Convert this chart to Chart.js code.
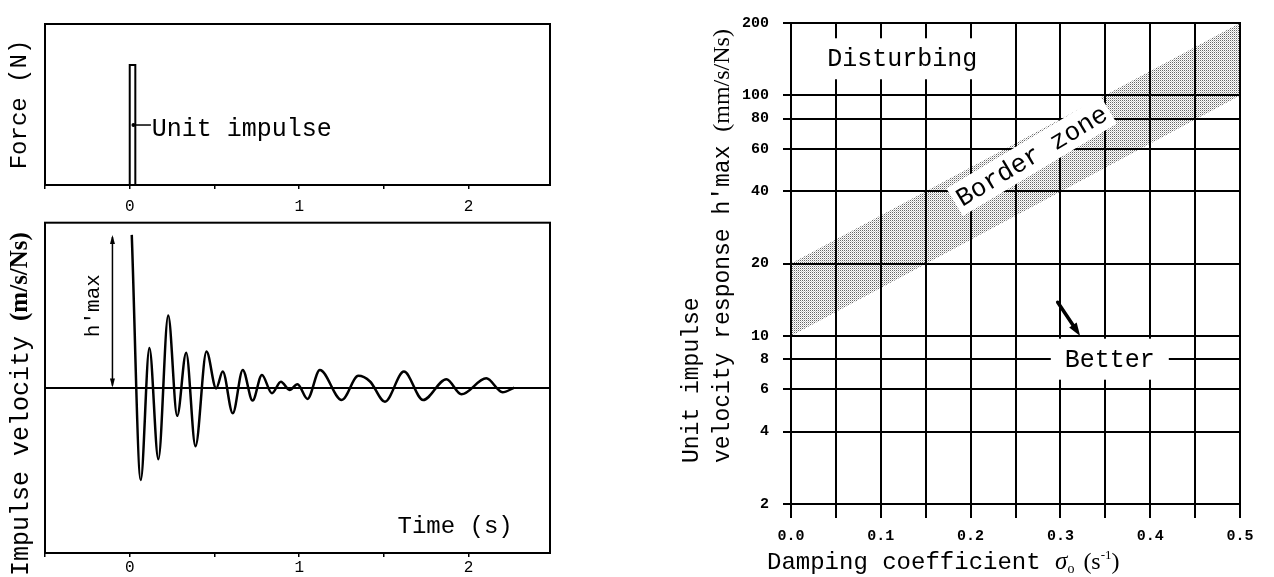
<!DOCTYPE html>
<html><head><meta charset="utf-8">
<script src="https://cdn.jsdelivr.net/npm/chart.js@4.4.1/dist/chart.umd.min.js"></script>
<style>
html,body{margin:0;padding:0;background:#fff;width:1274px;height:577px;overflow:hidden;position:relative}
canvas{position:absolute;display:block}
</style></head><body>
<canvas id="cA" width="560" height="220" style="left:0;top:0"></canvas>
<canvas id="cB" width="560" height="377" style="left:0;top:200px"></canvas>
<canvas id="cC" width="594" height="577" style="left:680px;top:0"></canvas>
<script>
// ---------- data ----------
const forceT = [0, 0, 0.033, 0.033];
const forceF = [0, 1, 1, 0];
const velT = [0.012, 0.065, 0.116, 0.169, 0.227, 0.28, 0.333, 0.388, 0.453, 0.51, 0.549, 0.608, 0.667, 0.725, 0.78, 0.839, 0.892, 0.943, 0.99, 1.049, 1.122, 1.251, 1.349, 1.418, 1.506, 1.618, 1.731, 1.869, 1.957, 2.104, 2.2, 2.27];
const velV = [1.0, -0.605, 0.26, -0.469, 0.472, -0.185, 0.229, -0.384, 0.236, -0.005, 0.105, -0.168, 0.116, -0.085, 0.083, -0.037, 0.039, -0.015, 0.022, -0.074, 0.116, -0.081, 0.077, 0.04, -0.092, 0.105, -0.081, 0.055, -0.044, 0.061, -0.03, 0.0];
const timeTicks = [-0.5, 0, 0.5, 1, 1.5, 2];
const timeLabels = ['', '0', '', '1', '', '2'];
const dampTicks = [0, 0.05, 0.1, 0.15, 0.2, 0.25, 0.3, 0.35, 0.4, 0.45, 0.5];
const dampLabels = ['0.0', '', '0.1', '', '0.2', '', '0.3', '', '0.4', '', '0.5'];
const respTicks = [2, 4, 6, 8, 10, 20, 40, 60, 80, 100, 200];
const bandX = [0, 0.5];
const bandLow = [10, 100];
const bandHigh = [20, 200];

// ---------- styles ----------
const MONO = "'Courier New', 'Liberation Mono', monospace";
const SERIF = "'Times New Roman', 'Liberation Serif', serif";
Chart.defaults.color = '#000';

function frame(lw) {
  return { id: 'frame', afterDatasetsDraw(chart) {
    const {ctx, chartArea: a} = chart;
    ctx.save(); ctx.strokeStyle = '#000'; ctx.lineWidth = lw;
    ctx.strokeRect(a.left, a.top, a.right - a.left, a.bottom - a.top);
    ctx.restore();
  }};
}
function arrowHead(ctx, x1, y1, x2, y2, len, wid) {
  const a = Math.atan2(y2 - y1, x2 - x1);
  ctx.beginPath();
  ctx.moveTo(x2, y2);
  ctx.lineTo(x2 - len * Math.cos(a) + wid * Math.sin(a), y2 - len * Math.sin(a) - wid * Math.cos(a));
  ctx.lineTo(x2 - len * Math.cos(a) - wid * Math.sin(a), y2 - len * Math.sin(a) + wid * Math.cos(a));
  ctx.closePath(); ctx.fill();
}
function runsWidth(ctx, list) {
  let w = 0;
  ctx.save();
  for (const r of list) { ctx.font = r.font; w += ctx.measureText(r.text).width + (r.gap || 0); }
  ctx.restore();
  return w;
}
function runs(ctx, x, y, angle, list, baseline) {
  ctx.save(); ctx.translate(x, y); ctx.rotate(angle);
  ctx.textAlign = 'left'; ctx.textBaseline = baseline || 'alphabetic'; ctx.fillStyle = '#000';
  let cx = 0;
  for (const r of list) { ctx.font = r.font; ctx.fillText(r.text, cx, r.dy || 0); cx += ctx.measureText(r.text).width + (r.gap || 0); }
  ctx.restore();
}
function boxText(ctx, text, x, y, angle, size, padX, padY) {
  ctx.save(); ctx.translate(x, y); ctx.rotate(angle);
  ctx.font = size + 'px ' + MONO;
  const w = ctx.measureText(text).width;
  ctx.fillStyle = '#fff';
  ctx.fillRect(-w / 2 - padX, -size / 2 - padY, w + 2 * padX, size + 2 * padY);
  ctx.fillStyle = '#000'; ctx.textAlign = 'center'; ctx.textBaseline = 'middle';
  ctx.fillText(text, 0, 1);
  ctx.restore();
}
const common = { responsive: false, animation: false, events: [],
  plugins: { legend: { display: false }, tooltip: { enabled: false } } };

// ---------- top-left: force ----------
new Chart(document.getElementById('cA'), {
  type: 'line',
  data: { datasets: [{ data: forceT.map((t, i) => ({x: t, y: forceF[i]})), borderColor: '#000', borderWidth: 2, pointRadius: 0, tension: 0, fill: false }] },
  options: Object.assign({}, common, {
    layout: { padding: { top: 24, right: 10, left: 0, bottom: 0 } },
    scales: {
      x: { type: 'linear', min: -0.5, max: 2.48,
        afterBuildTicks: s => { s.ticks = timeTicks.map(v => ({value: v})); },
        afterFit: s => { s.height = 35; },
        ticks: { autoSkip: false, maxRotation: 0, padding: 8, font: { family: MONO, size: 16 }, callback: (v, i) => timeLabels[i] },
        grid: { drawOnChartArea: false, drawTicks: true, tickLength: 4, color: '#000', lineWidth: 1.5 },
        border: { display: true, color: '#000', width: 2 } },
      y: { type: 'linear', min: 0, max: 1.342,
        afterFit: s => { s.width = 45; },
        ticks: { display: false }, grid: { display: false },
        border: { display: true, color: '#000', width: 2 } }
    }
  }),
  plugins: [frame(2), { id: 'annA', afterDraw(chart) {
    const {ctx, scales: {x, y}, chartArea: a} = chart;
    ctx.save(); ctx.strokeStyle = '#000'; ctx.lineWidth = 1.5;
    ctx.beginPath(); ctx.moveTo(x.getPixelForValue(0.02), y.getPixelForValue(0.5)); ctx.lineTo(x.getPixelForValue(0.125), y.getPixelForValue(0.5)); ctx.stroke();
    ctx.fillStyle = '#000'; ctx.beginPath(); ctx.arc(x.getPixelForValue(0.022), y.getPixelForValue(0.5), 2, 0, 7); ctx.fill();
    ctx.font = '25px ' + MONO; ctx.textBaseline = 'middle'; ctx.textAlign = 'left';
    ctx.fillText('Unit impulse', x.getPixelForValue(0.13), y.getPixelForValue(0.46));
    ctx.restore();
    const title = [{ text: 'Force (N)', font: '24px ' + MONO }];
    const w = runsWidth(ctx, title);
    runs(ctx, 20, (a.top + a.bottom) / 2 + w / 2, -Math.PI / 2, title, 'middle');
  } }]
});

// ---------- bottom-left: impulse velocity ----------
new Chart(document.getElementById('cB'), {
  type: 'line',
  data: { datasets: [{ data: velT.map((t, i) => ({x: t, y: velV[i]})), borderColor: '#000', borderWidth: 2.5, pointRadius: 0, cubicInterpolationMode: 'monotone', fill: false }] },
  options: Object.assign({}, common, {
    layout: { padding: { top: 22.7, right: 10, left: 0, bottom: 0 } },
    scales: {
      x: { type: 'linear', min: -0.5, max: 2.48,
        afterBuildTicks: s => { s.ticks = timeTicks.map(v => ({value: v})); },
        afterFit: s => { s.height = 24; },
        ticks: { autoSkip: false, maxRotation: 0, padding: 1, font: { family: MONO, size: 16 }, callback: (v, i) => timeLabels[i] },
        grid: { drawOnChartArea: false, drawTicks: true, tickLength: 4, color: '#000', lineWidth: 1.5 },
        border: { display: true, color: '#000', width: 2 } },
      y: { type: 'linear', min: -1.083, max: 1.08,
        afterBuildTicks: s => { s.ticks = [{value: 0}]; },
        afterFit: s => { s.width = 45; },
        ticks: { display: false },
        grid: { drawTicks: false, color: '#000', lineWidth: 2 },
        border: { display: true, color: '#000', width: 2 } }
    }
  }),
  plugins: [frame(2), { id: 'annB', afterDraw(chart) {
    const {ctx, scales: {x, y}} = chart;
    ctx.save(); ctx.strokeStyle = '#000'; ctx.fillStyle = '#000'; ctx.lineWidth = 1.5;
    const ax = x.getPixelForValue(-0.102), y0 = y.getPixelForValue(0), y1 = y.getPixelForValue(1.0);
    ctx.beginPath(); ctx.moveTo(ax, y0 - 2); ctx.lineTo(ax, y1 + 2); ctx.stroke();
    arrowHead(ctx, ax, y0 - 20, ax, y0, 9, 2.5);
    arrowHead(ctx, ax, y1 + 20, ax, y1, 9, 2.5);
    ctx.restore();
    runs(ctx, x.getPixelForValue(-0.212), y.getPixelForValue(0.54) + 32, -Math.PI / 2, [{ text: "h'max", font: '21px ' + MONO }], 'middle');
    ctx.save(); ctx.font = '24px ' + MONO; ctx.textBaseline = 'middle'; ctx.fillStyle = '#000';
    ctx.fillText('Time (s)', x.getPixelForValue(1.58), y.getPixelForValue(-0.912));
    ctx.restore();
    runs(ctx, 21, 376, -Math.PI / 2, [
      { text: 'Impulse velocity ', font: '25px ' + MONO },
      { text: '(m/s/Ns)', font: 'bold 25px ' + SERIF }
    ], 'middle');
  } }]
});

// ---------- right: damping vs response ----------
const cC = document.getElementById('cC');
function makePattern(ctx) {
  const c = document.createElement('canvas'); c.width = 2; c.height = 2;
  const g = c.getContext('2d');
  g.fillStyle = 'rgba(0,0,0,0.6)'; g.fillRect(0, 0, 1, 1);
  g.fillStyle = 'rgba(0,0,0,0.22)'; g.fillRect(1, 1, 1, 1);
  return ctx.createPattern(c, 'repeat');
}
const pat = makePattern(cC.getContext('2d'));
new Chart(cC, {
  type: 'line',
  data: { datasets: [
    { data: bandX.map((v, i) => ({x: v, y: bandLow[i]})), borderWidth: 0, pointRadius: 0, fill: false, tension: 0 },
    { data: bandX.map((v, i) => ({x: v, y: bandHigh[i]})), borderWidth: 0, pointRadius: 0, fill: '-1', backgroundColor: pat, tension: 0 }
  ] },
  options: Object.assign({}, common, {
    layout: { padding: { top: 10, right: 34, left: 0, bottom: 0 } },
    scales: {
      x: { type: 'linear', min: 0, max: 0.5,
        afterBuildTicks: s => { s.ticks = dampTicks.map(v => ({value: v})); },
        afterFit: s => { s.height = 73; },
        ticks: { autoSkip: false, maxRotation: 0, padding: 9, font: { family: MONO, size: 15, weight: 'bold' }, callback: (v, i) => dampLabels[i] },
        grid: { color: '#000', lineWidth: 2, tickLength: 14 },
        border: { display: true, color: '#000', width: 2 } },
      y: { type: 'logarithmic', min: 2, max: 200,
        afterBuildTicks: s => { s.ticks = respTicks.map(v => ({value: v})); },
        afterFit: s => { s.width = 111; },
        ticks: { autoSkip: false, padding: 14, font: { family: MONO, size: 15, weight: 'bold' }, callback: (v, i) => String(respTicks[i]) },
        grid: { color: '#000', lineWidth: 2, tickLength: 8 },
        border: { display: true, color: '#000', width: 2 } }
    }
  }),
  plugins: [frame(2), { id: 'annC', afterDatasetsDraw(chart) {
    const {ctx, scales: {x, y}} = chart;
    boxText(ctx, 'Disturbing', x.getPixelForValue(0.124), y.getPixelForValue(142), 0, 25, 8, 8);
    const ang = -31 * Math.PI / 180;
    boxText(ctx, 'Border zone', x.getPixelForValue(0.268), y.getPixelForValue(56), ang, 26, 4, 3);
    boxText(ctx, 'Better', x.getPixelForValue(0.355), y.getPixelForValue(8), 0, 25, 14, 8);
    const x1 = x.getPixelForValue(0.297), y1 = y.getPixelForValue(13.8), x2 = x.getPixelForValue(0.322), y2 = y.getPixelForValue(10.0);
    ctx.save(); ctx.strokeStyle = '#000'; ctx.fillStyle = '#000'; ctx.lineWidth = 3.5; ctx.lineCap = 'round';
    ctx.beginPath(); ctx.moveTo(x1, y1); ctx.lineTo(x1 + (x2 - x1) * 0.7, y1 + (y2 - y1) * 0.7); ctx.stroke();
    arrowHead(ctx, x1, y1, x2, y2, 13, 4.5);
    ctx.restore();
  }, afterDraw(chart) {
    const ctx = chart.ctx;
    runs(ctx, 87, 569, 0, [
      { text: 'Damping coefficient ', font: '24px ' + MONO },
      { text: 'σ', font: 'italic 25px ' + SERIF },
      { text: 'o', font: '14px ' + SERIF, dy: 4, gap: 3 },
      { text: ' (s', font: '24px ' + SERIF },
      { text: '-1', font: '13px ' + SERIF, dy: -10 },
      { text: ')', font: '24px ' + SERIF }
    ]);
    runs(ctx, 12, 463, -Math.PI / 2, [{ text: 'Unit impulse', font: '23px ' + MONO }], 'middle');
    runs(ctx, 43, 463, -Math.PI / 2, [
      { text: 'velocity response ', font: '23px ' + MONO },
      { text: "h'max ", font: '23px ' + MONO },
      { text: '(mm/s/Ns)', font: '24px ' + SERIF }
    ], 'middle');
  } }]
});
</script>
</body></html>
